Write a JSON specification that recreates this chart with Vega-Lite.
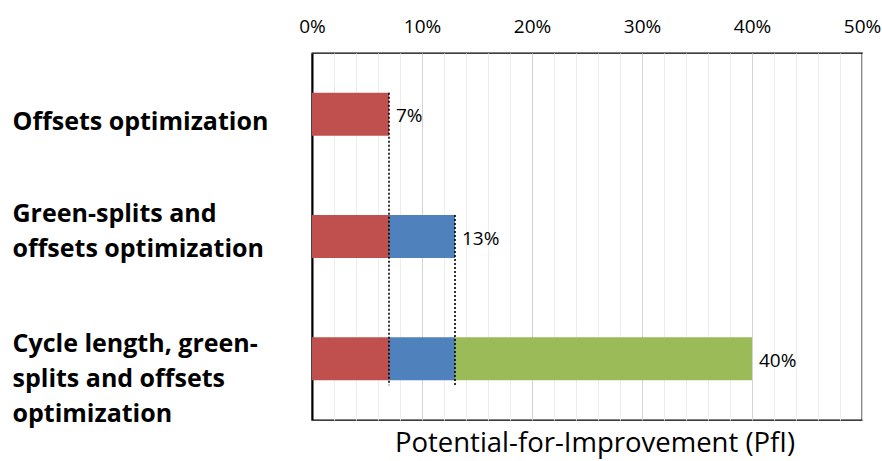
{
  "$schema": "https://vega.github.io/schema/vega-lite/v6.json",
  "width": 550,
  "height": 367,
  "autosize": "none",
  "padding": {"left": 312, "top": 53, "right": 20, "bottom": 41},
  "background": "white",
  "config": {
    "font": "Open Sans",
    "view": {"stroke": "#000000", "strokeWidth": 1.3},
    "axis": {"labelOverlap": false}
  },
  "title": {
    "text": "Potential-for-Improvement (PfI)",
    "orient": "bottom",
    "anchor": "middle",
    "frame": "group",
    "font": "Open Sans",
    "fontSize": 27.5,
    "fontWeight": "normal",
    "color": "#000000",
    "offset": 4,
    "dx": 8
  },
  "datasets": {
    "segments": [
      {"scenario": "Offsets optimization", "part": "Offsets", "start": 0, "end": 7},
      {"scenario": "Green-splits and\noffsets optimization", "part": "Offsets", "start": 0, "end": 7},
      {"scenario": "Green-splits and\noffsets optimization", "part": "Green-splits", "start": 7, "end": 13},
      {"scenario": "Cycle length, green-\nsplits and offsets\noptimization", "part": "Offsets", "start": 0, "end": 7},
      {"scenario": "Cycle length, green-\nsplits and offsets\noptimization", "part": "Green-splits", "start": 7, "end": 13},
      {"scenario": "Cycle length, green-\nsplits and offsets\noptimization", "part": "Cycle length", "start": 13, "end": 40}
    ],
    "totals": [
      {"scenario": "Offsets optimization", "total": 7},
      {"scenario": "Green-splits and\noffsets optimization", "total": 13},
      {"scenario": "Cycle length, green-\nsplits and offsets\noptimization", "total": 40}
    ],
    "guides": [
      {"level": 7, "from": "Offsets optimization", "to": "Cycle length, green-\nsplits and offsets\noptimization"},
      {"level": 13, "from": "Green-splits and\noffsets optimization", "to": "Cycle length, green-\nsplits and offsets\noptimization"}
    ]
  },
  "encoding": {
    "y": {
      "field": "scenario",
      "type": "nominal",
      "sort": null,
      "scale": {
        "domain": [
          "Offsets optimization",
          "Green-splits and\noffsets optimization",
          "Cycle length, green-\nsplits and offsets\noptimization"
        ],
        "paddingInner": 0.648,
        "paddingOuter": 0.324
      },
      "axis": {
        "title": null,
        "orient": "left",
        "ticks": false,
        "domain": true,
        "domainColor": "#000000",
        "domainWidth": 2,
        "labelAlign": "left",
        "labelBaseline": "middle",
        "labelPadding": 300,
        "labelFont": "Open Sans",
        "labelFontSize": 25,
        "labelFontWeight": "bold",
        "labelColor": "#000000",
        "labelLineHeight": 35,
        "labelLimit": 0,
        "labelOffset": {
          "condition": [
            {"test": "indexof(datum.value, 'Offsets') === 0", "value": 8},
            {"test": "indexof(datum.value, 'Green') === 0", "value": -23}
          ],
          "value": -15
        },
        "labelExpr": "split(datum.label, '\\n')"
      }
    },
    "x": {
      "scale": {"domain": [0, 50], "nice": false},
      "axis": {
        "title": null,
        "orient": "top",
        "values": [0, 2, 4, 6, 8, 10, 12, 14, 16, 18, 20, 22, 24, 26, 28, 30, 32, 34, 36, 38, 40, 42, 44, 46, 48, 50],
        "labelExpr": "datum.value % 10 === 0 ? datum.value + '%' : ''",
        "labelOverlap": false,
        "labelFlush": false,
        "labelFont": "Open Sans",
        "labelFontSize": 19,
        "labelColor": "#000000",
        "labelPadding": 17,
        "ticks": false,
        "domain": false,
        "grid": true,
        "gridColor": {
          "condition": {"test": "datum.value % 10 === 0", "value": "#d4d4d4"},
          "value": "#ededed"
        },
        "gridWidth": 1
      }
    }
  },
  "layer": [
    {
      "data": {"name": "segments"},
      "mark": {"type": "bar"},
      "encoding": {
        "x": {"field": "start", "type": "quantitative"},
        "x2": {"field": "end"},
        "color": {
          "field": "part",
          "type": "nominal",
          "scale": {
            "domain": ["Offsets", "Green-splits", "Cycle length"],
            "range": ["#C0504D", "#4F81BD", "#9BBB59"]
          },
          "legend": null
        }
      }
    },
    {
      "data": {"name": "guides"},
      "mark": {
        "type": "rule",
        "color": "#000000",
        "strokeWidth": 1.6,
        "strokeDash": [2, 2],
        "yOffset": -21.5,
        "y2Offset": 26.5
      },
      "encoding": {
        "x": {"field": "level", "type": "quantitative"},
        "y": {"field": "from", "type": "nominal"},
        "y2": {"field": "to"}
      }
    },
    {
      "data": {"name": "totals"},
      "transform": [{"calculate": "datum.total + '%'", "as": "total_label"}],
      "mark": {
        "type": "text",
        "align": "left",
        "baseline": "middle",
        "dx": 7,
        "dy": 2,
        "font": "Open Sans",
        "fontSize": 19,
        "color": "#000000"
      },
      "encoding": {
        "x": {"field": "total", "type": "quantitative"},
        "text": {"field": "total_label", "type": "nominal"}
      }
    }
  ]
}
